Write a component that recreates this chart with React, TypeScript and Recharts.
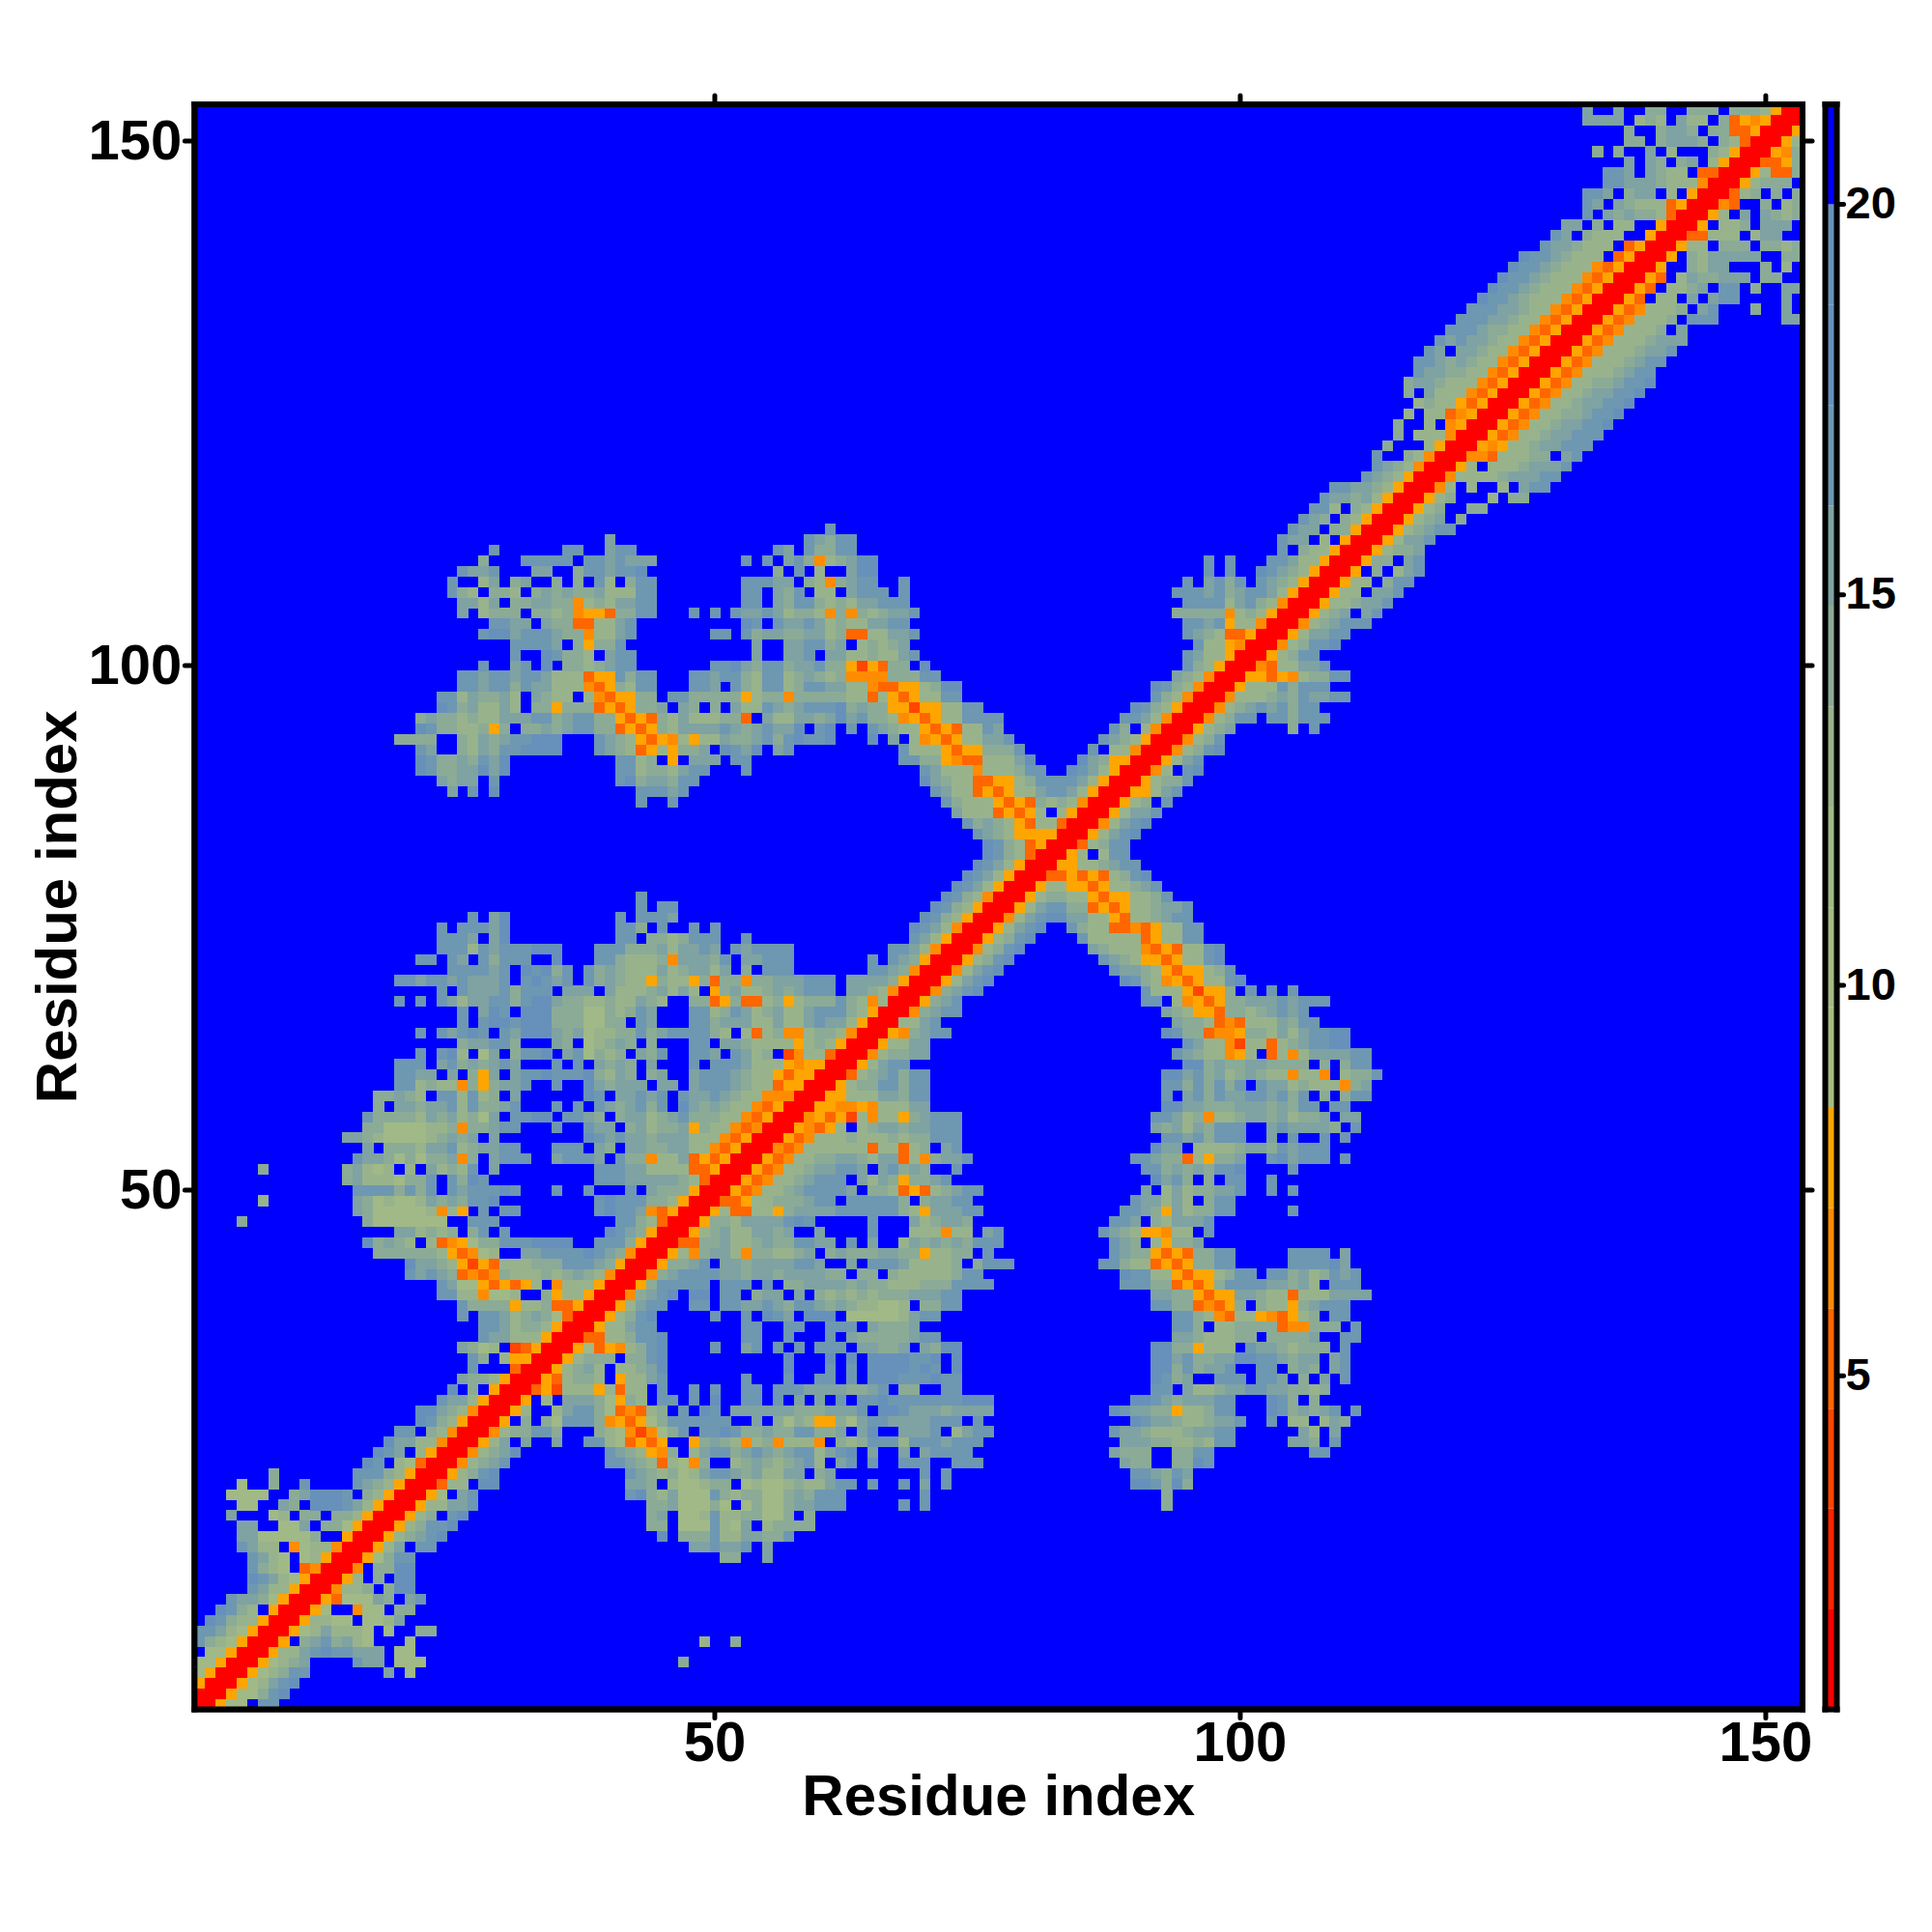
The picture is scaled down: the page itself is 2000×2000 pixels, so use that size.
import React from 'react';
import {
  ScatterChart,
  Scatter,
  BarChart,
  Bar,
  XAxis,
  YAxis,
  ReferenceArea,
} from 'recharts';

// distance bins of the colour bar (upper edge of a bin = next entry)
const distanceBreaks = [0.73, 2.01, 3.3, 4.58, 5.86, 7.15, 8.43, 9.72, 11.0, 12.29, 13.57, 14.86, 16.14, 17.43, 18.71, 20.0, 21.28];
const binColors = [
  '#ff0000', '#ff2400', '#ff4500', '#ff6600', '#ff8c00', '#ffa500',
  '#a5bd83', '#a3bb85', '#a0b987', '#98b38c', '#8bab96', '#7fa2a2', '#6e97b2', '#6791ba', '#6892b9',
  '#0000ff',
];
const residueTicks = [50, 100, 150];
const barTicks = [5, 10, 15, 20];
const RESIDUES = 153;

// one line per residue j: "i:bins" runs for residues i >= j, one hex digit per cell = distance bin.
// the map is symmetric and anything not listed is the last bin (blue).
const contactRows = [
  '1:00588 7:cc',
  '2:00588acd',
  '3:00589bcd',
  '4:00589acc 19:b 21:8',
  '5:00589ab 16:cbb 20:888 47:a',
  '6:00599bcdccbbb 20:88',
  '7:005 11:abcab98 21:8 49:9 52:a',
  '8:00589b9998 19:8 22:aa',
  '9:0059988 17:889b',
  '10:0058 16:488 20:aa',
  '11:0053888ba 21:bc',
  '12:00499a 19:add',
  '13:0059 18:a 20:dd',
  '14:004 18:aadd',
  '15:0058acc 51:aa 55:b',
  '16:0059b 22:cc 48:bbcbbc 55:b',
  '17:0059abcd 45:d 47:aaac99bbaac',
  '18:0059accd 44:aa 47:888c98b 55:9aaaa',
  '19:0059a 25:cd 44:ab 47:889c99aa88a 59:a',
  '20:00599bbc 44:aab888a8 53:8a88abbccc 68:c 70:c 93:a',
  '21:0058 26:bc 42:cda9b888ca9aa88abaccc 70:c 93:a',
  '22:00399 28:dd 42:bba 46:9889aa 53:89889a99bcc 65:c 68:c 70:b 72:c 90:ddcada',
  '23:0059acd 42:cba9a89bccbab99bb 60:ab 70:c 72:c 90:ccbacb',
  '24:0049abc 40:ccba93984a 52:9aba9abc9 62:bc 65:c 68:ccc 73:ccc 89:baa 94:aadc',
  '25:0049abd 40:cba954a 48:9bccabcbabcc9bcd 65:b 68:b 70:bcccc 88:baaa 94:aacc 107:cc',
  '26:0059b 32:b 35:b 38:cc983535 48:5aba949a49994 62:a9accc9cccbccc 89:bbbaa99a9cc 105:bba 109:c',
  '27:0049aacca 39:a984248ac 49:ccdcaabaaccaab 64:bd 68:bbbc 73:9bcc 88:cbba999abbcc 106:b9 109:b',
  '28:005 32:a 34:a8ccca45358acccccc 54:b 56:a8a955a8bccbbbbccc 75:c 90:dcbba99abbc 103:c 105:99 108:9ba',
  '29:0059 35:9bcca83439a 47:c 49:dc 52:bbbbbbaaabbbc 66:ddcbbbabbbb 88:dcbbaa599acc 103:dcababc 111:c',
  '30:005 34:9 36:bbba85a9 45:cc 48:c 50:d 53:cc 56:c 58:b 60:b 62:c 64:ccdcccccccddd 90:ddcbabbbcc 103:dca 107:a',
  '31:0035299959399 45:c 48:c 50:c 53:cc 56:cccbbbbaabc 68:aa 72:cc 92:cc 95:b99abbccbbaa9a',
  '32:00539aa9 41:599bc 53:c 57:c 60:cc 63:c 65:dddcccdcc 92:dcab 98:ccc 102:ccb 106:a 108:b 110:c',
  '33:0059ab9 41:99abd 57:d 61:c 63:c 65:ddddcdc 73:d 92:ddacabbc 102:cc 105:aba 109:bc',
  '34:0059aaa 42:aacd 57:d 61:d 63:d 65:ddddccd 73:d 92:ddbcaabbddccbabb 109:bc',
  '35:00583549acd 50:c 53:bc 56:c 58:c 60:ccc 64:bbaab 70:badd 92:ddaa5999 101:cbba9aaa 110:c',
  '36:003399accd 53:cc 57:c 61:c 63:baaaaabcc 94:bba999aa 103:aaaab 110:cc',
  '37:00599bcc 53:cc 57:cc 61:ccc 65:baaab 94:cca 98:99aaaa344aaa 111:c',
  '38:0059acd 50:c 53:c 55:dcb 59:ddd 63:888889bcc 94:cca9439954359a 109:cc',
  '39:0059bcc 48:cc 51:ccbbcbaccbaba99889 70:aacc 92:ccaa3435a 102:a995abccc',
  '40:004abcd 48:dd 51:cc 54:abb 58:b 60:a9a9a9aaabbbcc 92:bbaa5355bba993999bbbb',
  '41:005accccc 51:ccc 55:c 57:aabbbbabaa999aaacccc 89:cccaa3535accccbbab9 109:ccc',
  '42:004abccccbbabbabbbbaa 64:aa 67:a99999acc 89:dcc9953559acc 103:ccab9acbc',
  '43:005aabc 51:bbabbbbccb 63:b 65:cccb9999a 75:accc 87:cca993535aacc 105:ccccdb',
  '44:00594abb94aa99ab 61:abaaabbaa599aa 76:c 88:cbaa5353aacc 105:cccc 110:b',
  '45:0033aab99abaaccbb 63:c 65:b 68:9bababaccc 88:cba 92:95aab',
  '46:0059ab99bbab 60:b 65:c 69:999499 76:bc 87:cba955499 97:c',
  '47:005aa9bbbbcdc 65:c 69:b9abba 88:ccb 92:a9bbbc',
  '48:005933995abbbbcccccca95bbbcc 89:ccba5b9aacc 105:c',
  '49:0033599aaabcc 63:ccccca 70:abbcc 90:cbb9b9 97:acc',
  '50:0053499abccccb 65:aa93539abcc 91:b 93:9b9aabbc 103:c 105:c',
  '51:0053499abccc 64:b9ba5aabc 92:dbca 97:a 99:cc 103:c',
  '52:0053499abbccb 66:bcaba 73:c 91:ccababaccd 105:c',
  '53:0053499aabba9bb394abbc 90:ccbaa395aab 103:cdbccc 110:c',
  '54:0043499999939939a 72:bc 92:dbb 96:9999abbacbccc',
  '55:00534999a999a9aaccc 93:ccbcaccc 103:b 105:c 108:c 110:c',
  '56:0054359 64:9abbabbccc 92:bab9baccc 103:bcbbbba 111:c',
  '57:004535294995abccc 92:ccb9a499abbab9aab 110:bb',
  '58:00554454999bb 93:ddbbaaabbbabacc 109:cc',
  '59:0055999bbacc 93:c 95:bcacbbccbcac 108:a 110:acc',
  '60:0059aaccacc 93:ccacacac 102:cbb9a9994ab',
  '61:0039abcacc 93:ddbcab9aba994994 110:9aac',
  '62:0059bcc 95:ddabaabbaaaa 108:a 110:acc',
  '63:0049aabb 94:cba99459 103:3949bbbbcc',
  '64:00599bb 95:cb99429939abccdd',
  '65:0054abcc 93:dcaa3445aa9b9bccdd',
  '66:0099bc 94:baa9343999bacc',
  '67:004abcc 93:ba9553aa9abcbc',
  '68:005abc 91:cc 94:94535aabbbcbccc',
  '69:004abcd 91:c9995255a 101:c 103:c 105:c',
  '70:0059bcd 89:dca9453599cd',
  '71:0049bcd 88:cbba953559ac',
  '72:0059acd 87:cba9553599cd',
  '73:0049acd 86:ba999435399cd',
  '74:0059acd 85:c999993599cc',
  '75:0059bcd 84:ca993343599cc',
  '76:0049bcddbb995399abcc',
  '77:0059bccaa353599abbc',
  '78:0059aa99535599ac',
  '79:00599553599abc',
  '80:003353539acd',
  '81:005599abcc',
  '82:0059 87:9cc',
  '83:0039acc',
  '84:0059bcd',
  '85:0049bcd',
  '86:0059bbc',
  '87:0059a 93:c',
  '88:00559bc',
  '89:0059aac',
  '90:0049 95:cd',
  '91:0059bc',
  '92:0049acd',
  '93:0049ac',
  '94:0059ab 105:a 107:c',
  '95:0049acc 103:ccaccc',
  '96:0049abcbcacc',
  '97:004999abacbbcc',
  '98:005999caccc',
  '99:00553549aacc',
  '100:004399bbc',
  '101:0059acc',
  '102:0049accd',
  '103:0059bbcc',
  '104:0049abccc',
  '105:0059ab 112:bc',
  '106:00599abbc',
  '107:00599 113:bbc',
  '108:00599 114:acc',
  '109:005 113:a 115:9bc',
  '110:005aa 116:bc',
  '111:0059aab',
  '112:0059bbc',
  '113:0059abcc',
  '114:0059ab 121:a',
  '115:0059a 122:aa',
  '116:0059a 124:9 126:aa',
  '117:0049 122:9 125:9 127:bcc',
  '118:0049999abbbcc',
  '119:0059 124:999abbbc',
  '120:00443999aa 131:bc',
  '121:0054599abbccc',
  '122:0053499abbccc',
  '123:0053499abbccd',
  '124:0053499aabccd',
  '125:0053499abbccd',
  '126:0053499abbccd',
  '127:0053499aabccd',
  '128:00534999abcc',
  '129:00534999abcc',
  '130:00534999abbc',
  '131:00534999abbb',
  '132:00534999a 142:b',
  '133:00534999a 143:ccc 152:bb',
  '134:00534999a 144:bc 149:a 152:b',
  '135:0053 140:99 143:b 145:bcc 152:b',
  '136:0053 141:99ab 146:cc 149:a 152:bb',
  '137:0053 142:9baabbb 150:aa',
  '138:005 143:a9bb 150:a 152:9',
  '139:005 143:a9bbbbb 152:aa',
  '140:00599 146:aaa 150:aa9a',
  '141:0033999 149:9bb',
  '142:005 146:99a 150:bbb',
  '143:0059 148:b 150:ba9a',
  '144:0043 150:a 152:9a',
  '145:0039a 151:a 153:a',
  '146:0059aaa',
  '147:005933a',
  '148:00335a',
  '149:0054a',
  '150:0059',
  '151:005',
  '152:00',
  '153:0',
];

interface Cell {
  x: number;
  y: number;
  bin: number;
}

const cells: Cell[] = [];
contactRows.forEach((row, rowIndex) => {
  const j = rowIndex + 1;
  row.split(' ').forEach((run) => {
    const [start, bins] = run.split(':');
    [...bins].forEach((ch, k) => {
      const i = Number(start) + k;
      const bin = parseInt(ch, 16);
      cells.push({ x: i, y: j, bin });
      if (i !== j) cells.push({ x: j, y: i, bin });
    });
  });
});

// colour bar: the stack starts at zero, the axis domain cuts off what lies below the first break
const barRow: Record<string, number | string> = { name: 'distance' };
binColors.forEach((_, k) => {
  barRow[`bin${k}`] = k === 0 ? distanceBreaks[1] : distanceBreaks[k + 1] - distanceBreaks[k];
});

const FONT = '"Liberation Sans", Arial, sans-serif';
const LEFT = 201.4;
const RIGHT = 1866;
const TOP = 108;
const BOTTOM = 1769.6;
const cellW = (RIGHT - LEFT) / RESIDUES;
const cellH = (BOTTOM - TOP) / RESIDUES;
const lineStyle = { stroke: '#000', strokeWidth: 6, strokeLinecap: 'square' as const };
const tickStyle = { stroke: '#000', strokeWidth: 5, strokeLinecap: 'round' as const };
const labelTick = { fill: '#000', fontSize: 58, fontWeight: 700, fontFamily: FONT };
const axisTitle = { ...labelTick, fontSize: 60, textAnchor: 'middle' as const };
const domain: [number, number] = [0.5, RESIDUES + 0.5];

const CellShape = (props: any) => (
  <rect
    x={props.cx - cellW / 2}
    y={props.cy - cellH / 2}
    width={cellW + 0.3}
    height={cellH + 0.3}
    fill={binColors[props.payload.bin]}
    shapeRendering="crispEdges"
  />
);

const noLabel = () => '';

const App: React.FC = () => (
  <div style={{ position: 'absolute', left: 0, top: 0, width: 2000, height: 2000 }}>
    <div style={{ position: 'absolute', left: 0, top: 0 }}>
      <ScatterChart width={2000} height={2000} margin={{ top: 0, right: 0, bottom: 0, left: 0 }}>
        <XAxis
          xAxisId={0}
          type="number"
          dataKey="x"
          domain={domain}
          allowDataOverflow
          ticks={residueTicks}
          interval={0}
          height={2000 - BOTTOM}
          axisLine={lineStyle}
          tickLine={tickStyle}
          tickSize={9}
          tickMargin={3}
          tick={labelTick}
          label={{
            value: 'Residue index',
            position: 'insideTop',
            offset: 67,
            style: axisTitle,
          }}
        />
        <XAxis
          xAxisId="top"
          orientation="top"
          type="number"
          dataKey="x"
          domain={domain}
          allowDataOverflow
          ticks={residueTicks}
          interval={0}
          height={TOP}
          axisLine={lineStyle}
          tickLine={tickStyle}
          tickSize={9}
          tickFormatter={noLabel}
          tick={{ fontSize: 1 }}
        />
        <YAxis
          yAxisId={0}
          type="number"
          dataKey="y"
          domain={domain}
          allowDataOverflow
          ticks={residueTicks}
          interval={0}
          width={LEFT}
          axisLine={lineStyle}
          tickLine={tickStyle}
          tickSize={10}
          tickMargin={3}
          tick={{ ...labelTick, dy: -2 }}
          label={{
            value: 'Residue index',
            angle: -90,
            position: 'insideLeft',
            offset: 58,
            style: axisTitle,
          }}
        />
        <YAxis
          yAxisId="right"
          orientation="right"
          type="number"
          dataKey="y"
          domain={domain}
          allowDataOverflow
          ticks={residueTicks}
          interval={0}
          width={2000 - RIGHT}
          axisLine={lineStyle}
          tickLine={tickStyle}
          tickSize={10}
          tickFormatter={noLabel}
        />
        <ReferenceArea x1={domain[0]} x2={domain[1]} y1={domain[0]} y2={domain[1]} fill="#0000ff" fillOpacity={1} stroke="none" />
        <Scatter data={cells} isAnimationActive={false} shape={CellShape} />
        <ReferenceArea
          x1={domain[0]}
          x2={domain[1]}
          y1={domain[0]}
          y2={domain[1]}
          fill="none"
          stroke="#000"
          strokeWidth={6}
          zIndex={1000}
        />
      </ScatterChart>
    </div>
    <div style={{ position: 'absolute', left: 1800, top: 0 }}>
      <BarChart
        width={200}
        height={2000}
        data={[barRow]}
        barCategoryGap={0}
        margin={{ top: 0, right: 0, bottom: 0, left: 0 }}
      >
        <XAxis dataKey="name" height={2000 - BOTTOM} axisLine={lineStyle} tick={false} tickLine={false} />
        <XAxis xAxisId="top" orientation="top" dataKey="name" height={TOP} axisLine={lineStyle} tick={false} tickLine={false} />
        <YAxis
          orientation="right"
          type="number"
          domain={[distanceBreaks[0], distanceBreaks[distanceBreaks.length - 1]]}
          allowDataOverflow
          ticks={barTicks}
          interval={0}
          width={98.5}
          axisLine={lineStyle}
          tickLine={tickStyle}
          tickSize={7}
          tickMargin={2}
          tick={{ ...labelTick, fontSize: 47, dy: -2 }}
        />
        <YAxis yAxisId="left" width={89.5} axisLine={lineStyle} tick={false} tickLine={false} />
        {binColors.map((color, k) => (
          <Bar key={color} dataKey={`bin${k}`} stackId="bar" fill={color} isAnimationActive={false} />
        ))}
      </BarChart>
    </div>
  </div>
);

export default App;
